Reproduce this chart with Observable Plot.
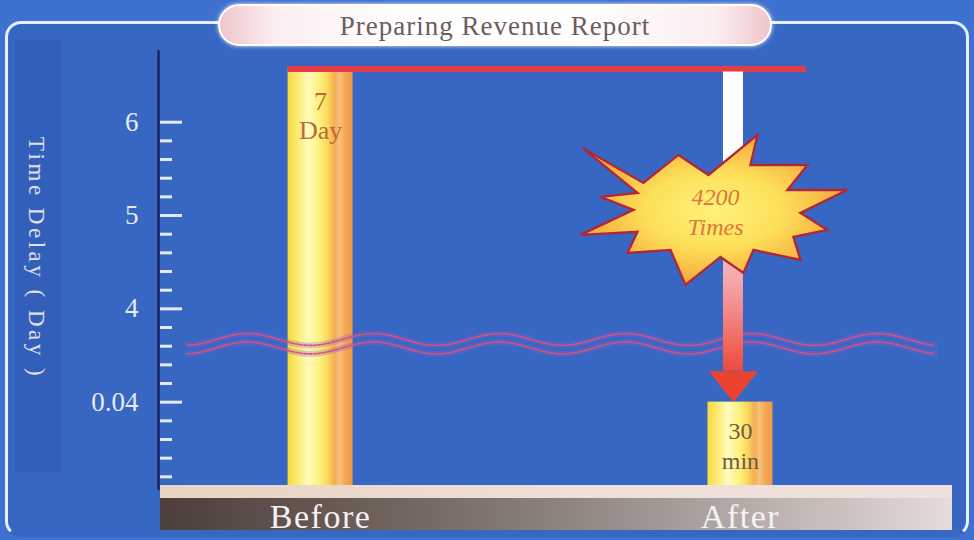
<!DOCTYPE html>
<html>
<head>
<meta charset="utf-8">
<script src="https://cdn.jsdelivr.net/npm/d3@7"></script>
<script src="https://cdn.jsdelivr.net/npm/@observablehq/plot@0.6"></script>
<style>
  html, body { margin: 0; padding: 0; background: #3d6fce; overflow: hidden; }
  #wrap { position: relative; width: 974px; height: 540px; background: #3f71d0; overflow: hidden; }
  .panel { position: absolute; left: 5px; top: 21px; width: 958px; height: 510px;
           border: 3px solid #e9f0fd; border-bottom-color: #3a66c0; border-radius: 16px; background: #3767c3; }
  .strip { position: absolute; left: 15px; top: 40px; width: 46px; height: 432px; background: rgba(25,45,120,0.13); }
  .pill { position: absolute; left: 218px; top: 4px; width: 550px; height: 38px; border-radius: 21px;
          border: 2px solid #ffffff;
          background: linear-gradient(to right, #efc6cc 0%, #fbeef0 10%, #ffffff 35%, #ffffff 65%, #fbeef0 90%, #efc6cc 100%);
          box-shadow: 0 0 4px rgba(255,255,255,0.9);
          font-family: "Liberation Serif", "DejaVu Serif", serif; font-size: 27px; letter-spacing: 1px;
          color: #6c5c5c; text-align: center; line-height: 40px; }
  .beige { position: absolute; left: 160px; top: 485px; width: 792px; height: 13px;
           background: linear-gradient(to right, #e9d3c3, #efdfd6 50%, #efe0de); }
  .band { position: absolute; left: 160px; top: 498px; width: 792px; height: 32px;
          background: linear-gradient(to right, #4c3f3c 0%, #655651 20%, #847a76 45%, #a49c99 65%, #c9c0be 85%, #e6dcdb 100%); }
  #chart { position: absolute; left: 0; top: 0; }
</style>
</head>
<body>
<div id="wrap">
  <div class="panel"></div>
  <div class="strip"></div>
  <div class="beige"></div>
  <div class="band"></div>
  <div class="pill">Preparing Revenue Report</div>
  <div id="chart"></div>
</div>
<script>
// ---- data ----
const categories = ["Before", "After"];
const delayDays = [6.57, 0.042];          // bar heights on the (broken) day axis
const barLabels = ["7\nDay", "30\nmin"];
const yTickValues = [0.04, 4, 5, 6];
const yTitle = "Time Delay ( Day )";
const speedupLabel = "4200\nTimes";

const data = categories.map((c, i) => ({cat: c, i, value: delayDays[i], label: barLabels[i]}));

// ---- layout constants ----
const W = 974, H = 540;
const mL = 158, mR = 22, mT = 50, mB = 55;
const frameW = W - mL - mR;
const xDomain = [-0.386, 1.505];
const hw = 0.0774;               // half bar width, category units
const serif = "Liberation Serif, DejaVu Serif, serif";

// broken axis: each segment [0,0.04], [0.04,4], [4,5], [5,6]... gets the same height
const brokenAxis = v => v <= 0.04 ? v / 0.04 : v <= 4 ? 1 + (v - 0.04) / 3.96 : 2 + (v - 4);

// minor ticks (axis decoration)
const minorTicks = [
  ...d3.range(1, 5).map(k => 0.04 - k * 0.008),
  ...d3.range(1, 5).map(k => 0.04 + k * (3.96 / 5)),
  ...d3.range(4.2, 5.99, 0.2).filter(v => Math.abs(v - 5) > 0.01)
];

// broken-axis wave (decoration)
const waveMid = [2.70, 2.34], waveAmp = 0.25;
const wave = [];
for (const [k, base] of waveMid.entries()) {
  for (const t of d3.range(-0.317, 1.466, 0.004)) {
    wave.push({k, t, v: base + waveAmp * Math.cos(2 * Math.PI * (t + 0.174) / 0.3)});
  }
}

// symbols
const starPts = [[-130,-62],[-69,-27],[-34,-55],[-4,-35],[45,-75],[38,-45],[95,-45],[75,-20],[135,-20],[88,3],
                 [115,20],[81,27],[88,50],[41,40],[31,63],[8,47],[-27,75],[-42,40],[-85,43],[-75,22],[-132,25],[-79,0],[-112,-13],[-75,-17]];
const starSymbol = {draw(ctx) { starPts.forEach(([x, y], j) => j ? ctx.lineTo(x, y) : ctx.moveTo(x, y)); ctx.closePath(); }};
const headSymbol = {draw(ctx) { ctx.moveTo(-24.5, -31); ctx.lineTo(24.5, -31); ctx.lineTo(0, 0); ctx.closePath(); }};
const starY = 5.06;

const chart = Plot.plot({
  width: W, height: H,
  marginLeft: mL, marginRight: mR, marginTop: mT, marginBottom: mB,
  style: {background: "transparent", overflow: "visible"},
  x: {domain: xDomain, axis: null},
  y: {transform: brokenAxis, domain: [0, 4], range: [495, 121.7], axis: null},
  marks: [
    // bars
    Plot.rect(data, {x1: d => d.i - hw, x2: d => d.i + hw, y1: () => 0, y2: "value", fill: "url(#barGrad)", clip: true}),
    // level line of the "before" value
    Plot.ruleY([delayDays[0]], {x1: () => -hw, x2: () => 1.157, stroke: "#e63c46", strokeWidth: 6}),
    // axis-break wave
    Plot.line(wave, {x: "t", y: "v", z: "k", stroke: "#8a5cc8", strokeWidth: 6, strokeOpacity: 0.3}),
    Plot.line(wave, {x: "t", y: "v", z: "k", stroke: "#dc4f7e", strokeWidth: 1.6, strokeDasharray: "3,1.6"}),
    // arrow
    Plot.rect([0], {x1: () => 1 - 0.0238, x2: () => 1 + 0.0238, y1: () => delayDays[1], y2: () => delayDays[0],
                    insetBottom: 31, insetTop: 3, dx: -7, fill: "url(#arrowGrad)"}),
    Plot.dot([0], {x: () => 1, y: () => delayDays[1], dx: -7, symbol: headSymbol, fill: "#ea4430", r: 5}),
    // starburst
    Plot.dot([0], {x: () => 1, y: () => starY, dx: -28, symbol: starSymbol, fill: "url(#starGrad)", stroke: "#b02838", strokeWidth: 2.4, r: 5}),
    Plot.text([speedupLabel], {x: () => 1, y: () => starY, dx: -25, dy: 0, text: d => d, fontSize: 24, fontStyle: "italic",
                               fontFamily: serif, fill: "#df7638", lineHeight: 1.25}),
    // bar labels
    Plot.text(data.filter(d => d.i === 0), {x: "i", y: "value", text: "label", lineAnchor: "top", dy: 21, fontSize: 26,
                                           lineHeight: 1.1, fontFamily: serif, fill: "#b86a3c"}),
    Plot.text(data.filter(d => d.i === 1), {x: "i", y: "value", text: "label", lineAnchor: "top", dy: 16, fontSize: 24,
                                           lineHeight: 1.25, fontFamily: serif, fill: "#6b5c48"}),
    // y axis ticks, line, labels
    Plot.tickY(minorTicks, {y: d => d, stroke: "#e3eaf7", strokeWidth: 3, insetLeft: 2, insetRight: frameW - 14}),
    Plot.tickY(yTickValues, {y: d => d, stroke: "#e3eaf7", strokeWidth: 3, insetLeft: 2, insetRight: frameW - 24}),
    Plot.ruleX([xDomain[0]], {stroke: "#172660", strokeWidth: 2.5, insetBottom: -5}),
    Plot.axisY(yTickValues, {tickSize: 0, tickPadding: 20, tickFormat: d => String(d), fontSize: 27,
                             fontFamily: serif, color: "#e6eaf4", label: null}),
    Plot.text([yTitle], {frameAnchor: "left", textAnchor: "middle", dx: -122, dy: -10, rotate: 90, fontSize: 23,
                         fontFamily: serif, fill: "#e2e0ea"}),
    // x axis labels
    Plot.axisX([0, 1], {tickSize: 0, tickPadding: 18, tickFormat: i => categories[i], fontSize: 34,
                        fontFamily: serif, color: "#f6f2f2", label: null})
  ]
});

const svg = d3.select(chart);
svg.insert("defs", ":first-child").html(`
  <linearGradient id="barGrad" x1="0" x2="1" y1="0" y2="0">
    <stop offset="0" stop-color="#f6d83e"/>
    <stop offset="0.12" stop-color="#fbe866"/>
    <stop offset="0.32" stop-color="#fffbbb"/>
    <stop offset="0.5" stop-color="#fdf07c"/>
    <stop offset="0.62" stop-color="#fad85a"/>
    <stop offset="0.72" stop-color="#f6ad52"/>
    <stop offset="0.8" stop-color="#f6c27c"/>
    <stop offset="0.9" stop-color="#f3a44e"/>
    <stop offset="1" stop-color="#ef9a46"/>
  </linearGradient>
  <linearGradient id="arrowGrad" x1="0" x2="0" y1="0" y2="1">
    <stop offset="0" stop-color="#ffffff"/>
    <stop offset="0.3" stop-color="#ffffff"/>
    <stop offset="0.72" stop-color="#f4a2a6"/>
    <stop offset="1" stop-color="#ef4a3c"/>
  </linearGradient>
  <radialGradient id="starGrad" cx="0.5" cy="0.5" r="0.5">
    <stop offset="0" stop-color="#fff27c"/>
    <stop offset="0.5" stop-color="#fde05a"/>
    <stop offset="1" stop-color="#f6a83c"/>
  </radialGradient>`);
svg.selectAll("text").filter(function () { return this.textContent === yTitle; }).attr("letter-spacing", "3.5px");
svg.selectAll("text").filter(function () { return categories.includes(this.textContent); }).attr("letter-spacing", "1.5px");
document.getElementById("chart").appendChild(chart);
</script>
</body>
</html>
